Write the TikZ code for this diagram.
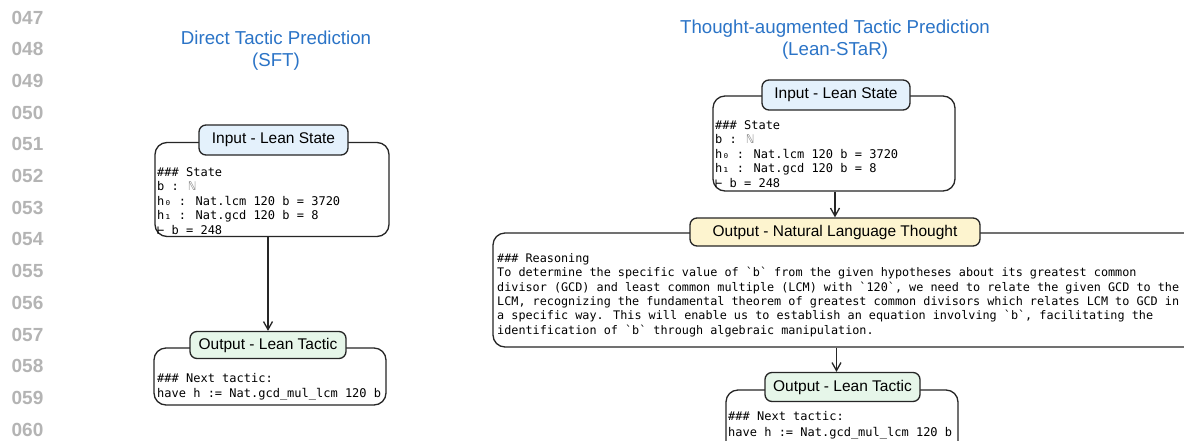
\documentclass[tikz,border=0pt]{standalone}
\usepackage{fontspec}
\setmainfont{Liberation Sans}
\newfontfamily\codefont{DejaVu Sans Mono}
\usetikzlibrary{arrows.meta}

\definecolor{titleblue}{HTML}{2B74C7}
\definecolor{numgray}{HTML}{B4B4B4}
\definecolor{inblue}{HTML}{E4F1FC}
\definecolor{outgreen}{HTML}{E6F6E9}
\definecolor{thoughtyellow}{HTML}{FDF4CF}
\definecolor{edge}{HTML}{262626}

\tikzset{
  linenum/.style={font=\fontsize{19}{19}\selectfont\bfseries, text=numgray, inner sep=0pt},
  title/.style={font=\fontsize{18.7}{22}\selectfont, text=titleblue, align=center, inner sep=0pt},
  bodybox/.style={draw=edge, line width=1.3pt, rounded corners=12pt, inner sep=0pt},
  header/.style={draw=edge, line width=1.3pt, rounded corners=7pt, inner sep=0pt,
                 font=\fontsize{15.5}{18}\selectfont},
  code/.style={anchor=north west, inner sep=0pt, align=left,
               font=\codefont\fontsize{12}{14.5}\selectfont},
  codesmall/.style={anchor=north west, inner sep=0pt, align=left,
               font=\codefont\fontsize{11.8}{14.45}\selectfont},
  arr/.style={draw=edge, line width=1.3pt, -{Straight Barb[length=8pt,width=9pt]}},
}

\begin{document}
\begin{tikzpicture}[x=1pt,y=-1pt]
\useasboundingbox (0,0) rectangle (1184,440);
\clip (0,0) rectangle (1184,440);
\fill[white] (0,0) rectangle (1184,440);

% margin line numbers
\foreach \n [count=\i from 0] in {047,048,049,050,051,052,053,054,055,056,057,058,059,060}
  \node[linenum] (ln\i) at (27.5,17.5+31.7*\i) {\n};

% ---------- left column: direct tactic prediction ----------
\node[title] (ltitle) at (276,51) {Direct Tactic Prediction\\(SFT)};

\node[bodybox, minimum width=234, minimum height=94] (lstate) at (272,189.5) {};
\node[header, fill=inblue, minimum width=149, minimum height=30] (lin) at (273.5,140) {Input - Lean State};
\node[code] (lstatetext) at (157,167)
  {\#\#\# State\\b : {\color{gray}ℕ}\\h₀ : Nat.lcm 120 b = 3720\\h₁ : Nat.gcd 120 b = 8\\⊢ b = 248};

\node[bodybox, minimum width=232, minimum height=57] (ltac) at (270,376.5) {};
\node[header, fill=outgreen, minimum width=156, minimum height=27] (lout) at (268,345) {Output - Lean Tactic};
\node[code] (ltactext) at (157,373.5)
  {\#\#\# Next tactic:\\have h := Nat.gcd\_mul\_lcm 120 b};

\draw[arr] (lstate.south -| lout.north) -- (lout.north);

% ---------- right column: thought-augmented tactic prediction ----------
\node[title] (rtitle) at (835,40) {Thought-augmented Tactic Prediction\\(Lean-STaR)};

\node[bodybox, minimum width=242, minimum height=95] (rstate) at (834,143.5) {};
\node[header, fill=inblue, minimum width=148, minimum height=30] (rin) at (836,95) {Input - Lean State};
\node[code] (rstatetext) at (715,120)
  {\#\#\# State\\b : {\color{gray}ℕ}\\h₀ : Nat.lcm 120 b = 3720\\h₁ : Nat.gcd 120 b = 8\\⊢ b = 248};

\node[bodybox, minimum width=710, minimum height=114] (reason) at (848,290) {};
\node[header, fill=thoughtyellow, minimum width=290, minimum height=28] (thought) at (835,232) {Output - Natural Language Thought};
\node[codesmall] (reasontext) at (497,253)
  {\#\#\# Reasoning\\
   To determine the specific value of `b` from the given hypotheses about its greatest common\\
   divisor (GCD) and least common multiple (LCM) with `120`, we need to relate the given GCD to the\\
   LCM, recognizing the fundamental theorem of greatest common divisors which relates LCM to GCD in\\
   a specific way. This will enable us to establish an equation involving `b`, facilitating the\\
   identification of `b` through algebraic manipulation.};

\node[bodybox, minimum width=232, minimum height=70] (rtac) at (842,425) {};
\node[header, fill=outgreen, minimum width=155, minimum height=29] (rout) at (842.5,387) {Output - Lean Tactic};
\node[code, font=\codefont\fontsize{12}{15.7}\selectfont] (rtactext) at (728,411)
  {\#\#\# Next tactic:\\have h := Nat.gcd\_mul\_lcm 120 b};

\draw[arr] (rstate.south -| thought.north) -- (thought.north);
\draw[arr] ([xshift=-6pt]reason.south -| rout.north) -- ([xshift=-6pt]rout.north);
\end{tikzpicture}
\end{document}
